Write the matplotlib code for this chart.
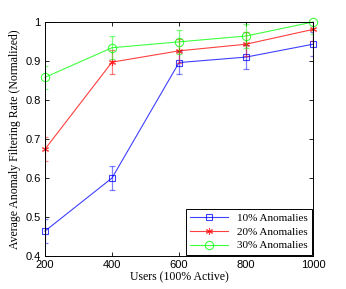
import matplotlib
matplotlib.use("Agg")
import matplotlib.pyplot as plt

# data
users = [200, 400, 600, 800, 1000]
rate_10 = [0.464, 0.600, 0.896, 0.910, 0.943]
rate_20 = [0.674, 0.897, 0.926, 0.943, 0.981]
rate_30 = [0.858, 0.934, 0.949, 0.964, 1.000]
err_10 = [0.03, 0.03, 0.03, 0.03, 0.03]
err_20 = [0.03, 0.03, 0.03, 0.03, 0.03]
err_30 = [0.03, 0.03, 0.03, 0.03, 0.03]
labels = ["10% Anomalies", "20% Anomalies", "30% Anomalies"]

serif = ["Liberation Serif", "DejaVu Serif"]
sans = ["Liberation Sans", "DejaVu Sans"]

fig = plt.figure(figsize=(3.46, 2.89), dpi=100)
ax = fig.add_axes([0.130, 0.114, 0.775, 0.810])

series = [
    (rate_10, err_10, "#0000ff", "s", labels[0]),
    (rate_20, err_20, "#ff0000", (6, 2, 0), labels[1]),
    (rate_30, err_30, "#00ff00", "o", labels[2]),
]
for vals, err, col, mk, lab in series:
    ax.errorbar(users, vals, yerr=err, fmt="none", ecolor=col, alpha=0.5,
                elinewidth=0.9, capsize=2.5, capthick=0.9)
    ax.plot(users, vals, color=col, marker=mk, markersize=5 if mk != "o" else 6,
            markerfacecolor="none", markeredgecolor=col, markeredgewidth=0.8,
            linewidth=0.8, alpha=0.75, label=lab, clip_on=False)

ax.set_xlim(200, 1000)
ax.set_ylim(0.4, 1.0)
ax.set_xticks(users)
ax.set_yticks([0.4, 0.5, 0.6, 0.7, 0.8, 0.9, 1.0])
ax.set_yticklabels(["0.4", "0.5", "0.6", "0.7", "0.8", "0.9", "1"])
ax.tick_params(direction="in", top=True, right=True, length=3, width=0.6,
               labelsize=8, pad=3)
for t in ax.get_xticklabels() + ax.get_yticklabels():
    t.set_fontfamily(sans)
for s in ax.spines.values():
    s.set_linewidth(0.7)

ax.set_xlabel("Users (100% Active)", family=serif, fontsize=8.5, labelpad=1)
ax.set_ylabel("Average Anomaly Filtering Rate (Normalized)", family=serif,
              fontsize=8.5, labelpad=3)

leg = ax.legend(loc="lower right", prop={"family": serif, "size": 8},
                fancybox=False, edgecolor="black", framealpha=1,
                borderaxespad=0.1, handlelength=3.4, labelspacing=0.35)
leg.get_frame().set_linewidth(0.7)

fig.savefig("out.png", dpi=100, facecolor="white")
